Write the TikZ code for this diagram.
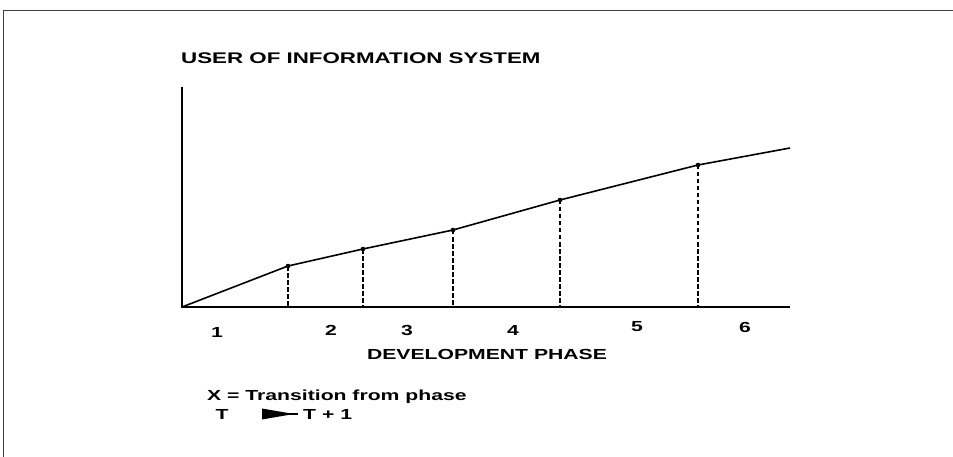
\documentclass[tikz,border=0pt]{standalone}
\usepackage{fontspec}
\setmainfont{Liberation Sans}
\newfontfamily\widesans[FakeStretch=1.45]{Liberation Sans}
\begin{document}
\begin{tikzpicture}[x=1pt,y=-1pt,line cap=butt,line join=miter,
	every node/.style={font=\widesans\bfseries\fontsize{14.6}{17}\selectfont,inner sep=0pt}]
		\tikzset{curve/.style={line width=1.6pt},guide/.style={line width=1.5pt,dash pattern=on 4.5pt off 2.5pt}}
		\useasboundingbox (0,0) rectangle (953,457);
		\draw[line width=0.8pt,black!75] (3,457)--(3,10)--(953,10);
		\node[anchor=west,font=\widesans\bfseries\fontsize{15.4}{18}\selectfont] (title) at (181,58) {USER OF INFORMATION SYSTEM};
		\coordinate (O) at (182,307);
		\coordinate (ytop) at (182,87);
		\coordinate (xend) at (790,307);
		\draw[curve] (ytop)--(O)--(xend);
		\foreach \n/\x/\y in {1/288/266,2/363/249,3/453/230,4/560/200,5/698/165}{
			\coordinate (p\n) at (\x,\y);
			\coordinate (q\n) at (\x,307);
		}
		\coordinate (p6) at (790,148);
		\draw[curve] (O)--(p1)--(p2)--(p3)--(p4)--(p5)--(p6);
		\foreach \n in {1,...,5}{
			\draw[guide] (p\n)--(q\n);
			\fill (p\n) circle (2.3pt);
		}
		\foreach \n/\x/\y in {1/217/332,2/331/330,3/407/330,4/513/330,5/637/327,6/745/327}
			\node (ph\n) at (\x,\y) {\n};
		\node (xlabel) at (487,354) {DEVELOPMENT PHASE};
		\node[anchor=west] (key) at (207,397) {X = Transition from phase};
		\node (from) at (222,414) {T};
		\node[anchor=west] (to) at (303,414) {T + 1};
		\coordinate (wedge) at (262,414);
		\fill (wedge) ++(0,-5.5) -- ++(26,4.5) -- ++(0,2) -- ++(-26,4.5) -- cycle;
		\draw[line width=1.2pt] (wedge) -- ([xshift=-5pt]to.west);
\end{tikzpicture}
\end{document}
